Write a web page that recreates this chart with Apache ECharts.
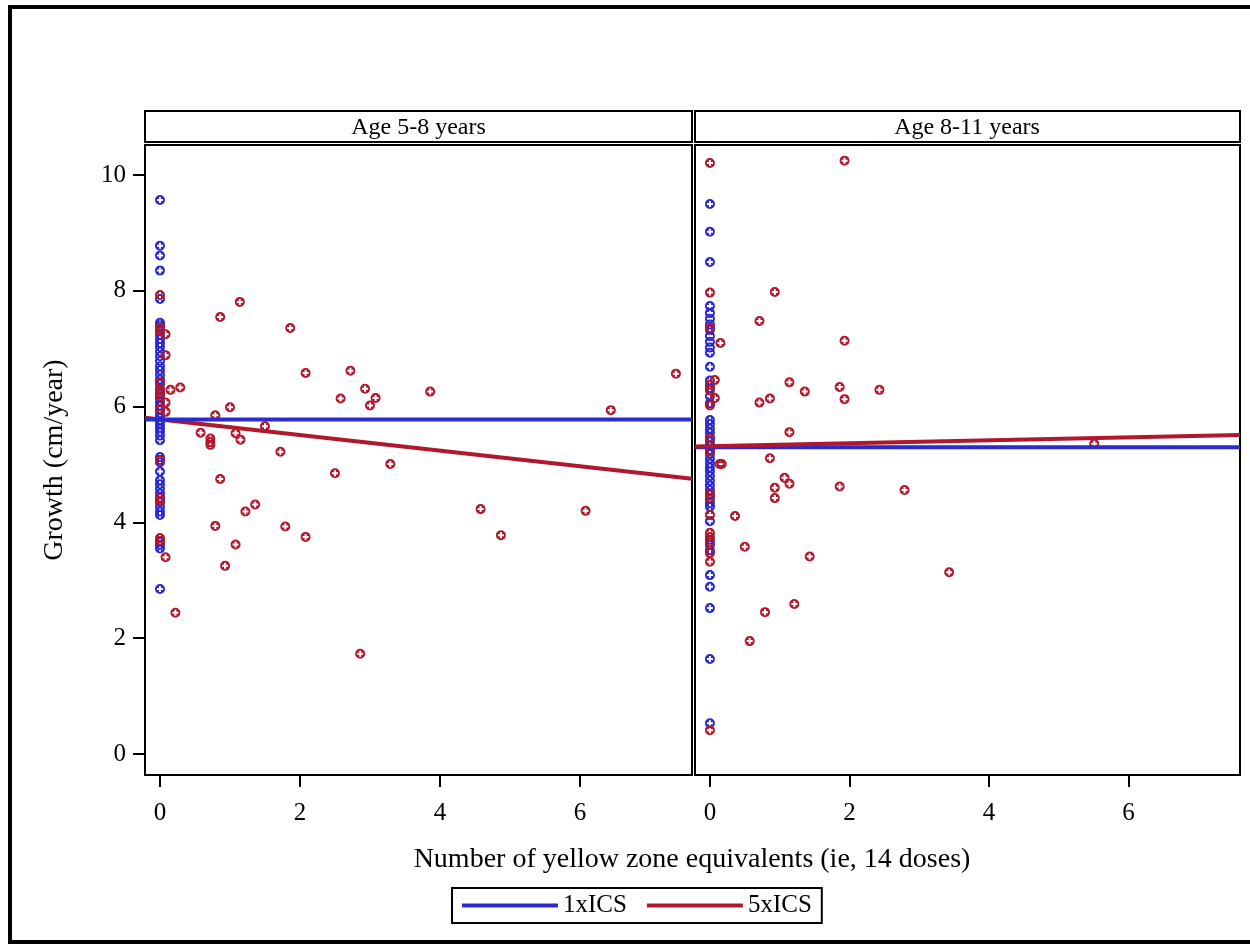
<!DOCTYPE html>
<html>
<head>
<meta charset="utf-8">
<script src="https://cdn.jsdelivr.net/npm/echarts@6/dist/echarts.min.js"></script>
<style>
  html, body { margin: 0; padding: 0; background: #fff; }
  #myScatter { width: 1250px; height: 944px; }
</style>
</head>
<body>
<div id="myScatter"></div>
<script>
// panel headers and series names
const panels = ['Age 5-8 years', 'Age 8-11 years']
const groups = ['1xICS', '5xICS']
const xTicks = [0, 2, 4, 6]
const yTicks = [0, 2, 4, 6, 8, 10]

// Age 5-8: 1xICS all at 0 yellow zone equivalents
const left1xGrowth = [9.57, 8.78, 8.61, 8.35, 7.86, 7.45, 7.40, 7.33, 7.24, 7.17, 7.10, 7.03, 6.95, 6.87, 6.79,
  6.70, 6.63, 6.55, 6.47, 6.39, 6.31, 6.22, 6.15, 6.08, 6.01, 5.94, 5.88, 5.82, 5.75, 5.69, 5.63, 5.57, 5.50,
  5.42, 5.13, 5.08, 5.04, 4.88, 4.73, 4.66, 4.58, 4.50, 4.43, 4.35, 4.27, 4.19, 4.13, 3.66, 3.61, 3.55, 2.85]

// Age 5-8: 5xICS
const left5xDose = [0, 0, 0, 0, 0, 0, 0, 0, 0, 0, 0, 0, 0,
  0.08, 0.08, 0.08, 0.08, 0.08, 0.15, 0.29, 0.22,
  1.14, 0.86, 1.86, 2.08, 2.72, 2.93, 3.86, 2.58, 3.08, 3.00, 1.00, 0.79, 1.50, 0.58, 1.08, 1.15,
  0.72, 0.72, 0.72, 1.72, 3.29, 2.50, 0.86, 1.36, 1.22, 0.79, 1.79, 2.08, 1.08, 0.93, 2.86,
  7.37, 6.44, 4.58, 6.08, 4.87]
const left5xGrowth = [7.93, 7.36, 7.30, 6.42, 6.29, 6.25, 6.18, 5.96, 5.08, 4.42, 4.37, 3.73, 3.68,
  7.25, 6.89, 6.07, 5.91, 3.40, 6.29, 6.33, 2.44,
  7.81, 7.55, 7.36, 6.58, 6.62, 6.31, 6.26, 6.14, 6.15, 6.02, 5.99, 5.85, 5.66, 5.55, 5.54, 5.43,
  5.45, 5.39, 5.34, 5.22, 5.01, 4.85, 4.75, 4.31, 4.19, 3.94, 3.93, 3.75, 3.62, 3.25, 1.73,
  6.57, 5.94, 4.23, 4.20, 3.78]

// Age 8-11: 1xICS all at 0
const right1xGrowth = [9.50, 9.02, 8.50, 7.74, 7.62, 7.52, 7.42, 7.33, 7.22, 7.12, 7.02, 6.93, 6.69, 6.45,
  6.32, 6.18, 6.06, 5.77, 5.70, 5.62, 5.55, 5.47, 5.40, 5.33, 5.25, 5.18, 5.10, 5.02, 4.95, 4.88, 4.80,
  4.72, 4.64, 4.56, 4.48, 4.40, 4.33, 4.27, 4.02, 3.70, 3.61, 3.52, 3.09, 2.89, 2.52, 1.64, 0.53]

// Age 8-11: 5xICS
const right5xDose = [0, 0, 0, 0, 0, 0, 0, 0, 0, 0, 0, 0, 0, 0, 0, 0, 0,
  0.07, 0.07, 0.14, 0.15,
  1.93, 0.93, 0.71, 1.93, 1.14, 1.36, 1.86, 2.43, 1.93, 0.71, 0.86, 1.14, 0.86, 0.17, 1.07, 1.14,
  0.93, 0.93, 1.86, 2.79, 0.36, 0.50, 1.43, 3.43, 1.21, 0.79, 0.57, 5.51]
const right5xGrowth = [10.21, 7.97, 7.36, 6.38, 6.28, 6.02, 5.45, 5.22, 4.50, 4.42, 4.13, 3.82, 3.75, 3.65, 3.47, 3.32, 0.41,
  6.46, 6.15, 5.01, 7.10,
  10.25, 7.98, 7.48, 7.14, 6.42, 6.26, 6.34, 6.29, 6.13, 6.07, 6.14, 5.56, 5.11, 5.01, 4.77, 4.67,
  4.60, 4.42, 4.62, 4.56, 4.11, 3.58, 3.41, 3.14, 2.59, 2.45, 1.95, 5.36]

// fitted lines: [intercept, slope] per panel and group
const leftFit = [[5.78, 0], [5.78, -0.135]]
const rightFit = [[5.30, 0], [5.316, 0.0256]]

const xMin = -0.214
const xMax = 7.6
const yMin = -0.363
const yMax = 10.52

const colors = ['#2a2ad2', '#b0182c']
const font = 'Liberation Serif'
// circle with a white plus cut out
const marker = 'path://M5,0 A5,5 0 1,1 5,10 A5,5 0 1,1 5,0 Z M4,2 L4,4 L2,4 L2,6 L4,6 L4,8 L6,8 L6,6 L8,6 L8,4 L6,4 L6,2 Z'

function pairs(xs, ys) {
  return ys.map((y, i) => [xs ? xs[i] : 0, y])
}

function fitLine(fit) {
  return [[xMin, fit[0] + fit[1] * xMin], [xMax, fit[0] + fit[1] * xMax]]
}

function scatter(name, idx, data, c) {
  return {
    name: name,
    type: 'scatter',
    xAxisIndex: idx,
    yAxisIndex: idx,
    data: data,
    symbol: marker,
    symbolSize: 10,
    itemStyle: { color: c, opacity: 1 },
    emphasis: { disabled: true },
    z: 2,
  }
}

function line(name, idx, data, c, z) {
  return {
    name: name,
    type: 'line',
    xAxisIndex: idx,
    yAxisIndex: idx,
    data: data,
    symbol: 'none',
    lineStyle: { color: c, width: 4 },
    itemStyle: { color: c },
    z: z,
  }
}

function xAxis(idx) {
  return {
    type: 'value',
    gridIndex: idx,
    min: xMin,
    max: xMax,
    axisLine: { show: false, onZero: false },
    axisTick: { show: true, length: 12, inside: false, customValues: xTicks, lineStyle: { color: '#000', width: 2 } },
    axisLabel: { customValues: xTicks, margin: 26, fontFamily: font, fontSize: 25, color: '#000' },
    splitLine: { show: false },
  }
}

let myChart = echarts.init(document.getElementById('myScatter'))

let option = {
  backgroundColor: '#fff',
  animation: false,
  color: colors,
  grid: [
    { left: 145, top: 145, width: 547, height: 630, show: true, borderColor: '#000', borderWidth: 2, backgroundColor: '#fff' },
    { left: 695, top: 145, width: 545, height: 630, show: true, borderColor: '#000', borderWidth: 2, backgroundColor: '#fff' },
  ],
  xAxis: [xAxis(0), xAxis(1)],
  yAxis: [
    {
      type: 'value',
      gridIndex: 0,
      min: yMin,
      max: yMax,
      name: 'Growth (cm/year)',
      nameLocation: 'middle',
      nameGap: 76,
      nameTextStyle: { fontFamily: font, fontSize: 28, color: '#000' },
      axisLine: { show: false, onZero: false },
      axisTick: { show: true, length: 12, customValues: yTicks, lineStyle: { color: '#000', width: 2 } },
      axisLabel: { customValues: yTicks, margin: 19, fontFamily: font, fontSize: 25, color: '#000' },
      splitLine: { show: false },
    },
    { type: 'value', gridIndex: 1, min: yMin, max: yMax, show: false, splitLine: { show: false } },
  ],
  legend: {
    data: groups,
    left: 452,
    top: 888,
    icon: 'rect',
    itemWidth: 96,
    itemHeight: 4,
    itemGap: 20,
    padding: [5, 10, 5, 10],
    borderColor: '#000',
    borderWidth: 2,
    selectedMode: false,
    textStyle: { fontFamily: font, fontSize: 25, color: '#000' },
  },
  graphic: [
    { type: 'rect', shape: { x: 10, y: 7, width: 1300, height: 935 }, style: { fill: 'none', stroke: '#000', lineWidth: 4 }, z: 100 },
    { type: 'rect', shape: { x: 145, y: 111, width: 547, height: 31 }, style: { fill: '#fff', stroke: '#000', lineWidth: 2 } },
    { type: 'rect', shape: { x: 695, y: 111, width: 545, height: 31 }, style: { fill: '#fff', stroke: '#000', lineWidth: 2 } },
    { type: 'text', x: 418.5, y: 128, style: { text: panels[0], font: '24px "Liberation Serif"', fill: '#000', textAlign: 'center', textVerticalAlign: 'middle' } },
    { type: 'text', x: 967, y: 128, style: { text: panels[1], font: '24px "Liberation Serif"', fill: '#000', textAlign: 'center', textVerticalAlign: 'middle' } },
    {
      type: 'text', x: 692, y: 860,
      style: { text: 'Number of yellow zone equivalents (ie, 14 doses)', font: '28px "Liberation Serif"', fill: '#000', textAlign: 'center', textVerticalAlign: 'middle' },
    },
  ],
  series: [
    scatter('1xICS points', 0, pairs(null, left1xGrowth), colors[0]),
    scatter('5xICS points', 0, pairs(left5xDose, left5xGrowth), colors[1]),
    line(groups[1], 0, fitLine(leftFit[1]), colors[1], 3),
    line(groups[0], 0, fitLine(leftFit[0]), colors[0], 4),
    scatter('1xICS points', 1, pairs(null, right1xGrowth), colors[0]),
    scatter('5xICS points', 1, pairs(right5xDose, right5xGrowth), colors[1]),
    line(groups[0], 1, fitLine(rightFit[0]), colors[0], 3),
    line(groups[1], 1, fitLine(rightFit[1]), colors[1], 4),
  ],
}

myChart.setOption(option)
</script>
</body>
</html>
